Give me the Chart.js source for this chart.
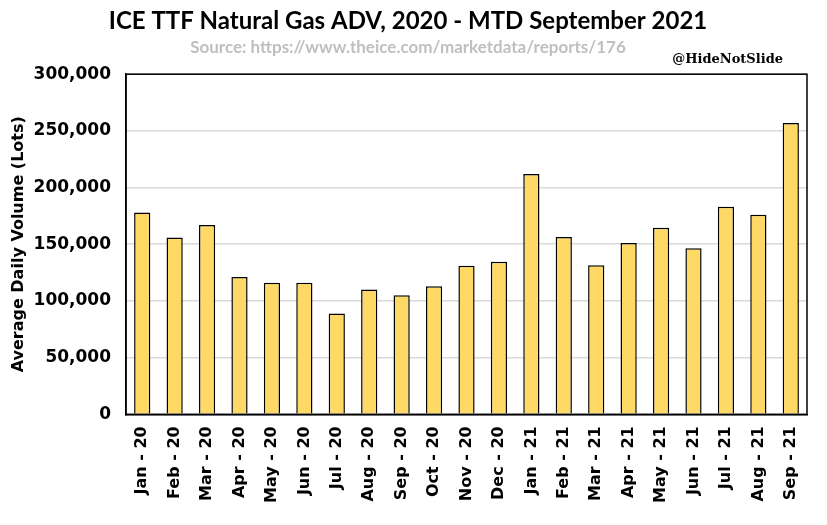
<!DOCTYPE html>
<html>
<head>
<meta charset="utf-8">
<script src="https://cdn.jsdelivr.net/npm/chart.js@4"></script>
<style>
  body { margin: 0; background: #fff; }
  #wrap { width: 827px; height: 525px; }
</style>
</head>
<body>
<div id="wrap"><canvas id="adv"></canvas></div>
<script>
var months = ['Jan - 20', 'Feb - 20', 'Mar - 20', 'Apr - 20', 'May - 20', 'Jun - 20', 'Jul - 20',
  'Aug - 20', 'Sep - 20', 'Oct - 20', 'Nov - 20', 'Dec - 20', 'Jan - 21', 'Feb - 21', 'Mar - 21',
  'Apr - 21', 'May - 21', 'Jun - 21', 'Jul - 21', 'Aug - 21', 'Sep - 21']
var adv = [178000, 156000, 167000, 121000, 116000, 116000, 89000, 110000, 105000, 113000, 131000,
  134500, 212000, 156500, 131500, 151000, 164500, 146500, 183000, 176000, 257000]
var yTicks = [0, 50000, 100000, 150000, 200000, 250000, 300000]

// box round the plot + handle in the corner
var frame = {
  id: 'frame',
  afterDraw(chart) {
    var a = chart.chartArea
    var c = chart.ctx
    c.save()
    c.strokeStyle = '#000'
    c.lineWidth = 1.5
    c.strokeRect(a.left, a.top, a.right - a.left, a.bottom - a.top)
    c.fillStyle = '#000'
    c.font = 'bold 13px "DejaVu Serif"'
    c.textAlign = 'right'
    c.textBaseline = 'bottom'
    c.fillText('@HideNotSlide', 783, a.top - 8)
    c.restore()
  },
}

var ctx = document.getElementById('adv').getContext('2d')
new Chart(ctx, {
  type: 'bar',
  data: {
    labels: months,
    datasets: [
      {
        label: 'ADV',
        data: adv,
        backgroundColor: '#FFD966',
        borderColor: '#000',
        borderWidth: 1.5,
        barPercentage: 0.5,
        categoryPercentage: 1,
      },
    ],
  },
  options: {
    responsive: true,
    maintainAspectRatio: false,
    animation: false,
    layout: { padding: { left: 9, right: 20, top: 3, bottom: 18 } },
    plugins: {
      legend: { display: false },
      tooltip: { enabled: false },
      title: {
        display: true,
        text: 'ICE TTF Natural Gas ADV, 2020 - MTD September 2021',
        color: '#000',
        font: { family: 'Lato', size: 24, weight: 'bold' },
        padding: { top: 4, bottom: 2 },
      },
      subtitle: {
        display: true,
        text: 'Source: https://www.theice.com/marketdata/reports/176',
        color: '#BFBFBF',
        font: { family: 'Lato', size: 17, weight: 'bold' },
        padding: { bottom: 16 },
      },
    },
    scales: {
      x: {
        grid: { display: false },
        border: { color: '#000', width: 1.5 },
        ticks: {
          color: '#000',
          minRotation: 90,
          maxRotation: 90,
          padding: 4,
          font: { family: 'DejaVu Sans', size: 16, weight: 'bold' },
        },
      },
      y: {
        min: 0,
        max: 300000,
        afterBuildTicks(axis) {
          axis.ticks = yTicks.map(v => ({ value: v }))
        },
        afterFit(axis) {
          axis.width = 117
        },
        grid: { color: '#D9D9D9', lineWidth: 1.5, drawTicks: false },
        border: { color: '#000', width: 1.5 },
        title: {
          display: true,
          text: 'Average Daily Volume (Lots)',
          color: '#000',
          font: { family: 'DejaVu Sans', size: 16, weight: 'bold' },
          padding: { top: 0, bottom: 0 },
        },
        ticks: {
          color: '#000',
          padding: 15,
          font: { family: 'DejaVu Sans', size: 17, weight: 'bold' },
          callback: v => v.toLocaleString('en-US'),
        },
      },
    },
  },
  plugins: [frame],
})
</script>
</body>
</html>
